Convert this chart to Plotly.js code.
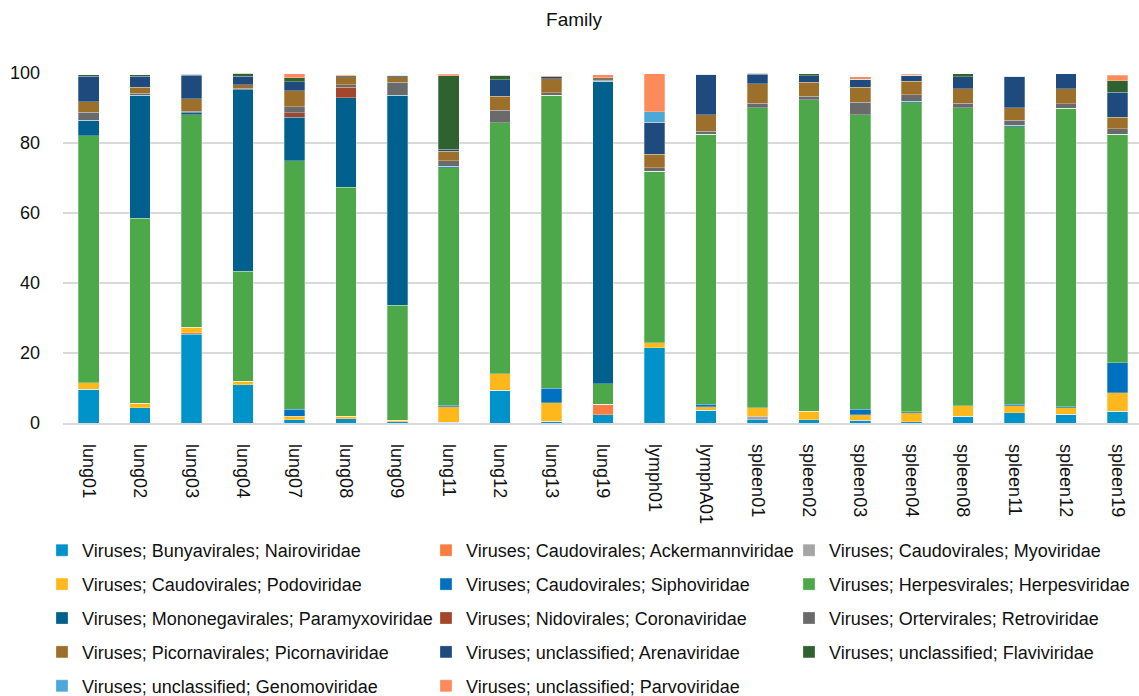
<!DOCTYPE html>
<html>
<head>
<meta charset="utf-8">
<script src="https://cdn.plot.ly/plotly-3.0.1.min.js"></script>
<style>html,body{margin:0;padding:0;background:#fff;}#chart{width:1139px;height:696px;}</style>
</head>
<body>
<div id="chart"></div>
<script>
const categories = ["lung01","lung02","lung03","lung04","lung07","lung08","lung09","lung11","lung12","lung13","lung19","lymph01","lymphA01","spleen01","spleen02","spleen03","spleen04","spleen08","spleen11","spleen12","spleen19"];

const nairoviridae     = [9.6, 4.4, 25.3, 11.0, 1.0, 1.2, 0.3, 0.2, 9.3, 0.5, 2.4, 21.5, 3.6, 1.0, 1.0, 0.6, 0.3, 1.9, 2.9, 2.5, 3.3];
const ackermannviridae = [0, 0, 0.5, 0, 0, 0, 0, 0, 0, 0, 2.9, 0, 0, 0, 0, 0, 0, 0, 0, 0, 0];
const myoviridae       = [0, 0, 0, 0, 0, 0, 0, 0, 0, 0, 0, 0, 0, 1.0, 0, 0.2, 0, 0, 0, 0, 0];
const podoviridae      = [1.9, 1.3, 1.6, 1.0, 0.9, 0.8, 0.5, 4.4, 4.8, 5.3, 0, 1.4, 1.0, 2.3, 2.4, 1.6, 2.6, 3.0, 2.0, 1.8, 5.4];
const siphoviridae     = [0, 0, 0, 0, 2.0, 0, 0, 0.5, 0, 4.2, 0, 0, 0.7, 0, 0, 1.5, 0.3, 0, 0.4, 0.3, 8.5];
const herpesviridae    = [70.6, 52.8, 60.7, 31.4, 71.0, 65.4, 32.8, 67.9, 71.7, 83.6, 5.9, 49.0, 77.2, 85.8, 89.0, 84.2, 88.3, 85.2, 79.3, 85.4, 65.3];
const paramyxoviridae  = [4.4, 35.2, 0.6, 51.8, 12.5, 25.5, 60.0, 0.4, 0, 0, 86.5, 0, 0, 0, 0, 0, 0.4, 0, 0.5, 0, 0];
const coronaviridae    = [0, 0, 0, 0, 1.2, 3.1, 0, 0, 0, 0, 0, 0, 0, 0, 0, 0, 0, 0, 0, 0, 0];
const retroviridae     = [2.3, 0.5, 0.4, 0.4, 1.7, 0.7, 3.8, 1.6, 3.5, 0.8, 0.3, 1.1, 0.8, 1.3, 0.9, 3.6, 1.9, 1.3, 1.4, 1.2, 1.6];
const picornaviridae   = [3.0, 1.7, 3.6, 1.0, 4.6, 2.2, 1.6, 2.7, 4.0, 4.0, 0.3, 3.8, 4.8, 5.6, 4.1, 4.3, 3.8, 4.1, 3.6, 4.3, 3.3];
const arenaviridae     = [7.3, 3.2, 6.7, 2.5, 2.6, 0.3, 0.3, 0.5, 4.8, 0.5, 0.4, 9.2, 11.5, 2.6, 1.8, 2.2, 1.7, 3.4, 9.0, 4.3, 7.1];
const flaviviridae     = [0.4, 0.4, 0.3, 0.9, 1.1, 0, 0.1, 21.0, 1.2, 0, 0, 0, 0, 0.4, 0.6, 0, 0, 0.9, 0, 0, 3.3];
const genomoviridae    = [0, 0, 0, 0, 0, 0, 0, 0, 0, 0, 0, 2.9, 0, 0, 0, 0, 0, 0, 0, 0, 0];
const parvoviridae     = [0, 0, 0, 0, 1.2, 0.2, 0, 0.4, 0, 0.3, 0.8, 10.9, 0, 0, 0, 0.8, 0.3, 0, 0, 0, 1.6];

const yTicks = [0, 20, 40, 60, 80, 100];

const series = [
  {name: "Viruses; Bunyavirales; Nairoviridae", y: nairoviridae, color: "#0093c9", legend: "legend"},
  {name: "Viruses; Caudovirales; Ackermannviridae", y: ackermannviridae, color: "#fb7d42", legend: "legend2"},
  {name: "Viruses; Caudovirales; Myoviridae", y: myoviridae, color: "#a5a5a5", legend: "legend3"},
  {name: "Viruses; Caudovirales; Podoviridae", y: podoviridae, color: "#ffb81c", legend: "legend"},
  {name: "Viruses; Caudovirales; Siphoviridae", y: siphoviridae, color: "#0070c0", legend: "legend2"},
  {name: "Viruses; Herpesvirales; Herpesviridae", y: herpesviridae, color: "#4ca849", legend: "legend3"},
  {name: "Viruses; Mononegavirales; Paramyxoviridae", y: paramyxoviridae, color: "#02608f", legend: "legend"},
  {name: "Viruses; Nidovirales; Coronaviridae", y: coronaviridae, color: "#a4462a", legend: "legend2"},
  {name: "Viruses; Ortervirales; Retroviridae", y: retroviridae, color: "#6a6a6a", legend: "legend3"},
  {name: "Viruses; Picornavirales; Picornaviridae", y: picornaviridae, color: "#9c702b", legend: "legend"},
  {name: "Viruses; unclassified; Arenaviridae", y: arenaviridae, color: "#1f4a7d", legend: "legend2"},
  {name: "Viruses; unclassified; Flaviviridae", y: flaviviridae, color: "#30622f", legend: "legend3"},
  {name: "Viruses; unclassified; Genomoviridae", y: genomoviridae, color: "#4ea8d6", legend: "legend"},
  {name: "Viruses; unclassified; Parvoviridae", y: parvoviridae, color: "#fd8a5a", legend: "legend2"}
];

const traces = series.map(s => ({
  type: "bar",
  x: categories,
  y: s.y,
  name: s.name,
  legend: s.legend,
  legendgroup: s.name,
  marker: {color: s.color, line: {color: "rgba(255,255,255,0.55)", width: 0.5}}
}));

const font = {family: "Liberation Sans, Arial, sans-serif", size: 18, color: "#111"};
const legendBase = {
  orientation: "v",
  xref: "container", yref: "container",
  xanchor: "left", yanchor: "top",
  y: 1 - 532/696,
  traceorder: "grouped",
  tracegroupgap: 7.5,
  font: {family: font.family, size: 18, color: "#111"},
  bgcolor: "rgba(0,0,0,0)",
  borderwidth: 0
};

const layout = {
  width: 1139, height: 696,
  margin: {l: 63, r: 0, t: 73, b: 273, autoexpand: false},
  paper_bgcolor: "#fff", plot_bgcolor: "#fff",
  font: font,
  title: {text: "Family", x: 0.504, xref: "container", y: 1 - 19/696, yref: "container", xanchor: "center", yanchor: "middle", font: {family: font.family, size: 19, color: "#111"}},
  barmode: "stack",
  bargap: 0.6,
  xaxis: {
    type: "category",
    range: [-0.5, 20.42],
    tickangle: 90,
    ticklabelstandoff: 16,
    showgrid: false,
    showline: true, linecolor: "#d9d9d9", linewidth: 1.5,
    ticks: "",
    automargin: false,
    tickfont: {family: font.family, size: 18, color: "#111"},
    fixedrange: true
  },
  yaxis: {
    range: [0, 100],
    tickvals: yTicks,
    ticktext: yTicks.map(String),
    showgrid: true, gridcolor: "#d9d9d9", gridwidth: 1.5,
    zeroline: false,
    showline: false,
    ticks: "",
    automargin: false,
    ticklabelstandoff: 22,
    tickfont: {family: font.family, size: 18, color: "#111"},
    fixedrange: true
  },
  showlegend: true,
  legend: Object.assign({}, legendBase, {x: 42/1139}),
  legend2: Object.assign({}, legendBase, {x: 426/1139}),
  legend3: Object.assign({}, legendBase, {x: 789/1139})
};

Plotly.newPlot("chart", traces, layout, {displayModeBar: false, staticPlot: true});
</script>
</body>
</html>
